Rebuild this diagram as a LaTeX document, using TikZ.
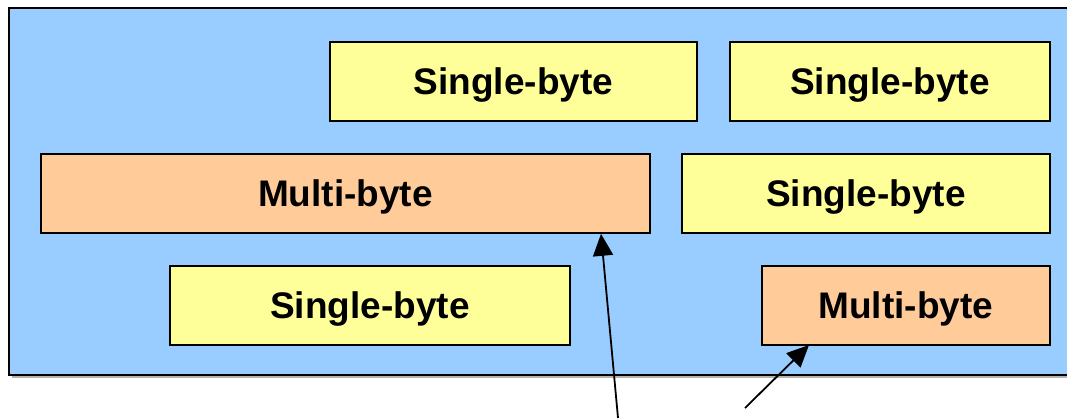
\documentclass[tikz,border=0pt]{standalone}
\usepackage{fontspec}
\setmainfont{Liberation Sans}
\usetikzlibrary{arrows.meta}
\definecolor{panelblue}{HTML}{99CCFF}
\definecolor{singlefill}{HTML}{FFFF99}
\definecolor{multifill}{HTML}{FFCC99}
\tikzset{
  bytebox/.style={draw=black, line width=1.8pt, inner sep=0pt, anchor=north west,
    text depth=0pt, text height=26pt,
    font=\fontsize{37}{40}\selectfont\bfseries},
  singlebox/.style={bytebox, fill=singlefill},
  multibox/.style={bytebox, fill=multifill},
  pointer/.style={line width=1.8pt, -{Triangle[length=22pt, width=20pt]}},
}
\begin{document}
\begin{tikzpicture}[x=1pt, y=-1pt]
  \useasboundingbox (0,0) rectangle (1067,418);
  % background panel (runs past the right edge)
  \fill[black!30] (12,11) rectangle (1090,378);
  \draw[line width=2.2pt, fill=panelblue] (9,8) rectangle (1090,375);
  % byte boxes
  \node[singlebox, minimum width=367pt, minimum height=79pt] (s1) at (329,41) {Single-byte};
  \node[singlebox, minimum width=320pt, minimum height=79pt] (s2) at (729,41) {Single-byte};
  \node[multibox,  minimum width=609pt, minimum height=79pt] (m1) at (40,153) {Multi-byte};
  \node[singlebox, minimum width=368pt, minimum height=79pt] (s3) at (681,153) {Single-byte};
  \node[singlebox, minimum width=400pt, minimum height=79pt] (s4) at (169,265) {Single-byte};
  \node[multibox,  minimum width=288pt, minimum height=79pt] (m2) at (761,265) {Multi-byte};
  % pointers into the multi-byte boxes
  \coordinate (t1) at (618,418);
  \coordinate (t2) at (745,408);
  \draw[pointer] (t1) -- (m1.south -| 601,0);
  \draw[pointer] (t2) -- (809,345);
\end{tikzpicture}
\end{document}
